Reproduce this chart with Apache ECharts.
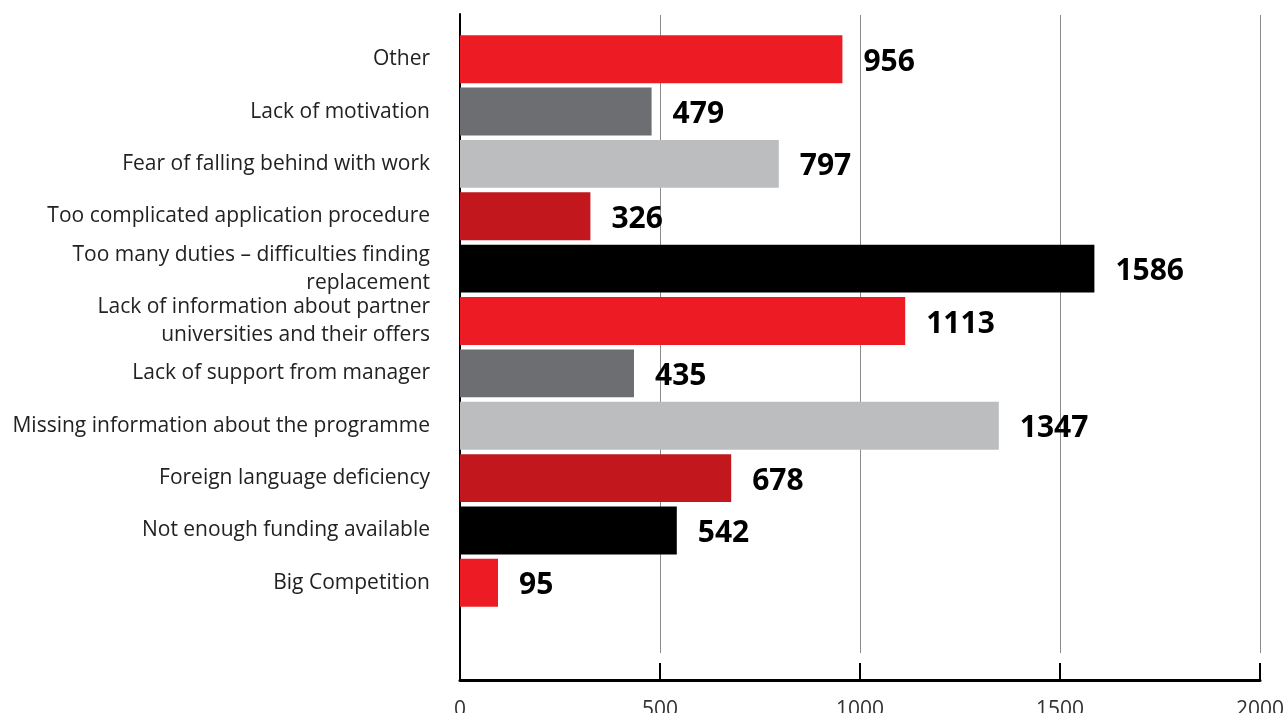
<!DOCTYPE html>
<html>
<head>
<meta charset="utf-8">
<script src="https://cdn.jsdelivr.net/npm/echarts@6/dist/echarts.min.js"></script>
<style>
html,body{margin:0;padding:0;background:#fff;}
#chart{width:1285px;height:713px;}
</style>
</head>
<body>
<div id="chart"></div>
<script>
const categories = [
  "Other",
  "Lack of motivation",
  "Fear of falling behind with work",
  "Too complicated application procedure",
  "Too many duties – difficulties finding\nreplacement",
  "Lack of information about partner\nuniversities and their offers",
  "Lack of support from manager",
  "Missing information about the programme",
  "Foreign language deficiency",
  "Not enough funding available",
  "Big Competition"
];
const values = [956, 479, 797, 326, 1586, 1113, 435, 1347, 678, 542, 95];
const xTicks = [0, 500, 1000, 1500, 2000];
const palette = ["#ED1C24", "#6D6E71", "#BCBDBF", "#C1171D", "#000000"];

const chart = echarts.init(document.getElementById('chart'), null, {renderer: 'canvas'});
const xMin = xTicks[0], xMax = xTicks[xTicks.length - 1], xStep = xTicks[1] - xTicks[0];
const option = {
  animation: false,
  backgroundColor: '#ffffff',
  textStyle: {fontFamily: 'Open Sans'},
  grid: [
    {left: 460, right: 25, top: 33, height: 576, outerBoundsMode: 'none', containLabel: false},
    {left: 460, right: 25, top: 14, height: 666, outerBoundsMode: 'none', containLabel: false},
    {left: 460, right: 25, top: 15, height: 638, outerBoundsMode: 'none', containLabel: false}
  ],
  xAxis: [
    {gridIndex: 0, type: 'value', min: xMin, max: xMax, show: false},
    {gridIndex: 1, type: 'value', min: xMin, max: xMax, interval: xStep,
      axisLine: {show: true, lineStyle: {color: '#000', width: 3}},
      axisTick: {show: true, inside: true, length: 17, lineStyle: {color: '#000', width: 2}},
      axisLabel: {show: true, margin: 20, fontSize: 21, color: '#333', fontFamily: 'Open Sans',
        formatter: v => String(v)},
      splitLine: {show: false}},
    {gridIndex: 2, type: 'value', min: xMin, max: xMax, interval: xStep,
      axisLine: {show: false}, axisTick: {show: false}, axisLabel: {show: false},
      splitLine: {show: true, lineStyle: {color: '#8a8a8a', width: 1}}}
  ],
  yAxis: [
    {gridIndex: 0, type: 'category', data: categories, inverse: true,
      axisLine: {show: false}, axisTick: {show: false},
      axisLabel: {margin: 30, fontSize: 21, color: '#222', align: 'right', lineHeight: 28, fontFamily: 'Open Sans'}},
    {gridIndex: 1, type: 'value', min: 0, max: 1,
      axisLine: {show: true, lineStyle: {color: '#000', width: 2}},
      axisTick: {show: false}, axisLabel: {show: false}, splitLine: {show: false}},
    {gridIndex: 2, type: 'value', min: 0, max: 1, show: false, splitLine: {show: false}}
  ],
  series: [{
    type: 'bar',
    xAxisIndex: 0, yAxisIndex: 0,
    data: values,
    barCategoryGap: '8.5%',
    itemStyle: {color: p => palette[p.dataIndex % palette.length]},
    label: {show: true, position: 'right', distance: 21, fontSize: 30, fontWeight: 'bold',
      color: '#000', fontFamily: 'Open Sans', offset: [0, 3]}
  }]
};
chart.setOption(option);
</script>
</body>
</html>
